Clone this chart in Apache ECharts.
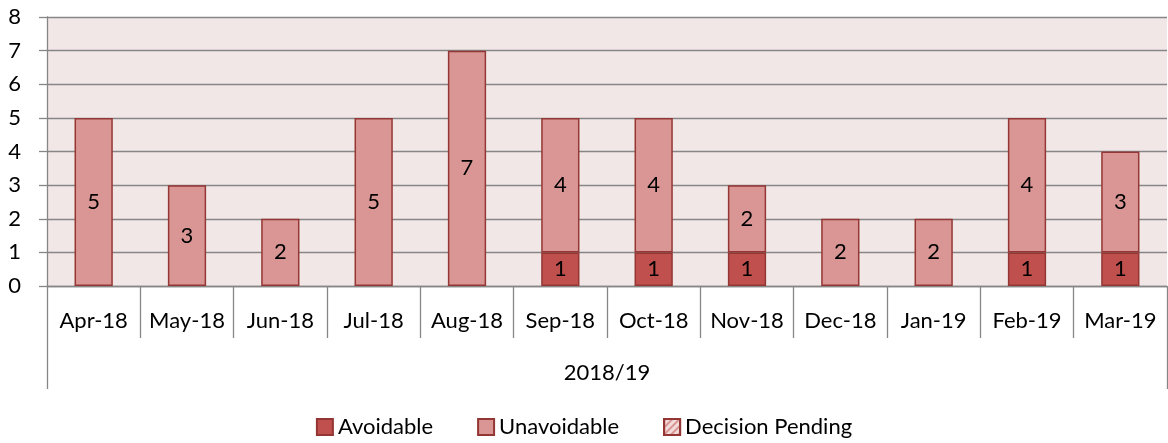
<!DOCTYPE html>
<html>
<head>
<meta charset="utf-8">
<script src="https://cdn.jsdelivr.net/npm/echarts@6/dist/echarts.min.js"></script>
<style>
html,body{margin:0;padding:0;background:#fff;}
#chart{width:1168px;height:443px;}
</style>
</head>
<body>
<div id="chart"></div>
<script>
const months = ['Apr-18','May-18','Jun-18','Jul-18','Aug-18','Sep-18','Oct-18','Nov-18','Dec-18','Jan-19','Feb-19','Mar-19'];
const groupLabels = ['2018/19'];
const avoidable = [0,0,0,0,0,1,1,1,0,0,1,1];
const unavoidable = [5,3,2,5,7,4,4,2,2,2,4,3];
const decisionPending = [0,0,0,0,0,0,0,0,0,0,0,0];
const yTicks = [0,1,2,3,4,5,6,7,8];

const FONT = 'Lato';
const FS = 22;
const gray = '#868686';
const border = '#943634';
const toData = arr => arr.map(v => v === 0 ? '-' : v);
const labelCfg = {show:true, position:'inside', color:'#000', fontFamily:FONT, fontSize:FS};

const chart = echarts.init(document.getElementById('chart'));
chart.setOption({
  animation:false,
  textStyle:{fontFamily:FONT},
  grid:{left:47, right:1, top:17, bottom:157, show:true, backgroundColor:'#F2E7E7', borderWidth:0},
  legend:{
    bottom:0, left:'center', icon:'rect', itemWidth:16, itemHeight:16, itemGap:44,
    textStyle:{fontFamily:FONT, fontSize:FS, color:'#000'},
    data:['Avoidable','Unavoidable','Decision Pending']
  },
  xAxis:[
    {type:'category', data:months, position:'bottom',
     axisLine:{lineStyle:{color:gray, width:1.3}},
     axisTick:{show:true, length:52, interval:0, lineStyle:{color:gray, width:1.3}},
     axisLabel:{margin:24, color:'#000', fontFamily:FONT, fontSize:FS, interval:0}},
    {type:'category', data:groupLabels, position:'bottom', offset:52,
     axisLine:{show:false},
     axisTick:{show:true, length:51, interval:0, lineStyle:{color:gray, width:1.3}},
     axisLabel:{margin:24, color:'#000', fontFamily:FONT, fontSize:FS}}
  ],
  yAxis:{type:'value', min:yTicks[0], max:yTicks[yTicks.length-1], interval:1,
    axisLine:{show:true, lineStyle:{color:gray, width:1.3}},
    axisTick:{show:true, length:8, lineStyle:{color:gray, width:1.3}},
    splitLine:{show:true, lineStyle:{color:gray, width:1.3}},
    axisLabel:{margin:26, color:'#000', fontFamily:FONT, fontSize:FS}},
  series:[
    {name:'Avoidable', type:'bar', stack:'s', barWidth:'41%', data:toData(avoidable),
     itemStyle:{color:'#C0504D', borderColor:border, borderWidth:1.5}, label:labelCfg},
    {name:'Unavoidable', type:'bar', stack:'s', data:toData(unavoidable),
     itemStyle:{color:'#D99694', borderColor:border, borderWidth:1.5}, label:labelCfg},
    {name:'Decision Pending', type:'bar', stack:'s', data:toData(decisionPending),
     itemStyle:{color:'#F2DCDB', borderColor:border, borderWidth:1.5,
       decal:{symbol:'rect', symbolSize:1, dashArrayX:[1,0], dashArrayY:[2,3], rotation:-Math.PI/4, color:'#D99694'}},
     label:labelCfg}
  ]
});
</script>
</body>
</html>
